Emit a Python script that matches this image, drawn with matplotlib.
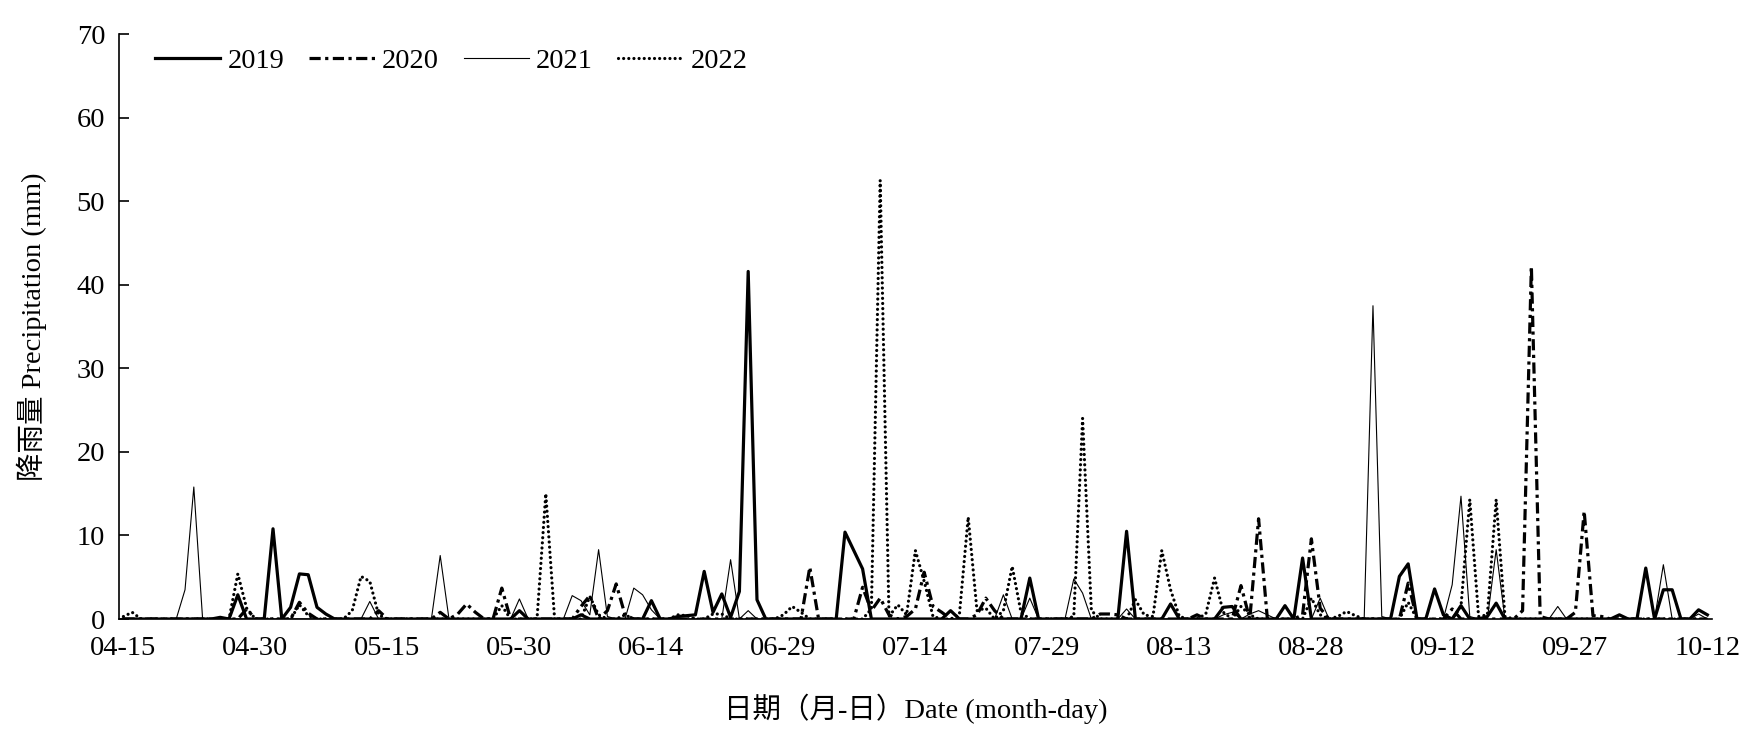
"""
Daily precipitation, 04-15 to 10-12, four seasons (2019-2022)
"""

import numpy as np
import matplotlib.pyplot as plt

# ============================================================
# DATA  (mm per day, day 0 = 04-15, day 180 = 10-12)
# ============================================================
rain_2019 = [
    0, 0, 0, 0, 0, 0, 0, 0, 0, 0, 0, 0.2, 0, 2.9, 0,
    0, 0, 10.8, 0, 1.4, 5.4, 5.3, 1.4, 0.6, 0, 0, 0, 0, 0, 0,
    0, 0, 0, 0, 0, 0, 0, 0, 0, 0, 0, 0, 0, 0, 0,
    1.0, 0, 0, 0, 0, 0, 0, 0.5, 0, 0, 0, 0, 0, 0, 0,
    2.2, 0, 0, 0.3, 0.4, 0.5, 5.7, 0.8, 3.0, 0.2, 3.3, 41.6, 2.3, 0, 0,
    0, 0, 0, 0, 0, 0, 0, 10.4, 8.2, 6.0, 0, 0, 0, 0, 0,
    0, 0, 0, 0, 1.0, 0, 0, 0, 0, 0, 0, 0, 0, 4.9, 0,
    0, 0, 0, 0, 0, 0, 0, 0, 0, 10.5, 0, 0, 0, 0, 1.8,
    0, 0, 0, 0, 0, 1.4, 1.5, 0, 0, 0, 0, 0, 1.6, 0, 7.3,
    0, 0, 0, 0, 0, 0, 0, 0, 0, 0, 5.1, 6.6, 0, 0, 3.6,
    0.5, 0, 1.6, 0, 0, 0.3, 1.9, 0, 0, 0, 0, 0, 0, 0, 0,
    0, 0, 0, 0, 0, 0.5, 0, 0, 6.1, 0, 3.5, 3.5, 0, 0, 1.1,
    0.5,
]

rain_2020 = [
    0, 0, 0, 0, 0, 0, 0, 0, 0, 0, 0, 0, 0, 0, 1.2,
    0, 0, 0, 0, 0, 2.0, 0.7, 0, 0, 0, 0, 0, 0, 0, 1.0,
    0, 0, 0, 0, 0, 0, 0.8, 0, 0.6, 1.8, 0.8, 0, 0, 3.7, 0,
    0, 0, 0, 0, 0, 0, 0, 1.5, 2.8, 0, 1.0, 4.2, 0.5, 0, 0,
    0, 0, 0, 0, 0, 0, 0, 0, 0, 0, 0, 0, 0, 0, 0,
    0, 0, 0, 6.2, 0, 0, 0, 0, 0, 3.8, 1.0, 2.5, 0.5, 0, 0.3,
    1.2, 5.6, 1.5, 0.8, 0, 0, 0, 0.5, 2.5, 1.0, 0, 0, 0, 0, 0,
    0, 0, 0, 0, 0, 0, 0.6, 0.6, 0.5, 0, 0, 0, 0, 0, 0,
    0, 0, 0.5, 0, 0, 0, 0, 4.0, 0, 12.0, 0, 0, 0, 0, 0.5,
    9.6, 1.3, 0, 0, 0, 0, 0, 0, 0, 0, 0, 4.3, 0, 0, 0,
    0, 1.2, 0, 0, 0, 0, 0, 0, 0, 1.0, 42.2, 0.3, 0, 0, 0,
    0.8, 12.9, 0.4, 0.3, 0, 0, 0, 0, 0, 0, 0, 0, 0, 0, 0,
    0,
]

rain_2021 = [
    0, 0, 0, 0, 0, 0, 0, 3.5, 15.8, 0, 0, 0, 0, 0, 0,
    0, 0, 0, 0, 0, 0, 0, 0, 0, 0, 0, 0, 0, 2.1, 0,
    0, 0, 0, 0, 0, 0, 7.6, 0, 0, 0, 0, 0, 0, 0, 0,
    2.4, 0, 0, 0, 0, 0, 2.8, 2.2, 0.5, 8.3, 0.3, 0, 0, 3.7, 2.9,
    1.1, 0, 0, 0, 0, 0, 0, 0, 0, 7.1, 0, 1.0, 0, 0, 0,
    0, 0, 0, 0, 0, 0, 0, 0, 0, 0, 0, 0, 0, 0, 0,
    0, 0, 0, 0, 0, 0, 0, 0, 0, 0, 2.9, 0, 0, 2.5, 0,
    0, 0, 0, 4.8, 3.1, 0, 0, 0, 0, 1.2, 0, 0, 0, 0, 0,
    0, 0, 0, 0, 0, 0.5, 0.8, 0, 0.6, 1.0, 0.5, 0, 0, 0, 0,
    0, 2.5, 0, 0, 0, 0, 0, 37.5, 0.3, 0, 0, 0, 0, 0, 0,
    0, 4.1, 14.7, 0.3, 0, 0, 8.3, 0, 0, 0, 0, 0, 0, 1.5, 0,
    0, 0, 0, 0, 0, 0, 0, 0, 0, 0, 6.5, 0, 0, 0, 0.6,
    0,
]

rain_2022 = [
    0.3, 0.8, 0, 0, 0, 0, 0, 0, 0, 0, 0, 0, 0, 5.4, 1.3,
    0, 0, 0, 0, 0, 1.7, 0.4, 0, 0, 0, 0, 1.0, 5.1, 4.5, 0.5,
    0, 0, 0, 0, 0, 0, 0, 0, 0, 0, 0, 0, 0, 1.6, 0,
    0, 0, 0, 15.0, 0, 0, 0, 0, 2.7, 0.5, 0, 0, 0.5, 0, 0,
    0, 0, 0, 0.5, 0.4, 0, 0, 0.6, 0.6, 0, 0, 0, 0, 0, 0,
    0.5, 1.5, 0.8, 0, 0, 0, 0, 0, 0, 0, 1.2, 52.5, 0.3, 1.7, 0.5,
    8.2, 4.5, 0.3, 0, 0, 0.5, 12.2, 1.0, 1.3, 0, 1.0, 6.3, 0.8, 0, 0,
    0, 0, 0, 0.3, 24.0, 1.0, 0, 0, 0, 0, 2.3, 0.5, 0.3, 8.2, 3.5,
    0.3, 0, 0, 0.6, 4.9, 0.8, 0, 1.5, 0.5, 0, 0, 0, 0, 0, 0,
    2.5, 0.5, 0, 0.3, 0.9, 0.4, 0, 0, 0, 0, 0, 2.0, 0, 0, 0,
    0, 0, 1.5, 14.3, 0.3, 0.5, 14.3, 0.3, 0, 0, 0, 0, 0, 0, 0,
    0, 0, 0, 0, 0, 0, 0, 0, 0, 0, 0, 0, 0, 0, 0,
    0,
]

tick_labels = ['04-15', '04-30', '05-15', '05-30', '06-14', '06-29', '07-14',
               '07-29', '08-13', '08-28', '09-12', '09-27', '10-12']

# ============================================================
# PLOT
# ============================================================
plt.rcParams['font.family'] = ['Liberation Serif', 'Noto Sans CJK SC']
FS = 20.5

fig = plt.figure(figsize=(17.58, 7.44), dpi=100)
ax = fig.add_axes([0.0677, 0.168, 0.906, 0.786])

days = np.arange(len(rain_2019))

ax.plot(days, rain_2019, color='black', linewidth=2.3, label='2019')
ax.plot(days, rain_2020, color='black', linewidth=2.3,
        linestyle=(0, (3.5, 1.4, 1, 1.4)), label='2020')
ax.plot(days, rain_2021, color='black', linewidth=0.8, label='2021')
ax.plot(days, rain_2022, color='black', linewidth=2.3,
        linestyle=(0, (0.01, 1.6)), dash_capstyle='round', label='2022')

ax.set_xlim(-0.5, len(days) - 0.5)
ax.set_ylim(0, 70)
ax.set_yticks(range(0, 71, 10))
ax.set_xticks(np.arange(0, len(days), 15))
ax.set_xticklabels(tick_labels)

for side in ['top', 'right']:
    ax.spines[side].set_visible(False)
for side in ['left', 'bottom']:
    ax.spines[side].set_linewidth(1.2)
ax.tick_params(axis='y', direction='in', length=7, width=1.2,
               labelsize=FS, pad=10)
ax.tick_params(axis='x', direction='in', length=0, labelsize=FS, pad=12)

ax.set_xlabel('日期（月-日）Date (month-day)', fontsize=FS)
ax.xaxis.set_label_coords(0.5, -0.128)
ax.set_ylabel('降雨量 Precipitation (mm)', fontsize=FS)
ax.yaxis.set_label_coords(-0.045, 0.5)

ax.legend(loc='center left', ncol=4, frameon=False, fontsize=FS,
          handlelength=2.3, handletextpad=0.25, columnspacing=0.87,
          borderpad=0, borderaxespad=0,
          bbox_to_anchor=(155 / 1758, 1 - 61 / 744),
          bbox_transform=fig.transFigure)

plt.savefig('out.png', dpi=100)
